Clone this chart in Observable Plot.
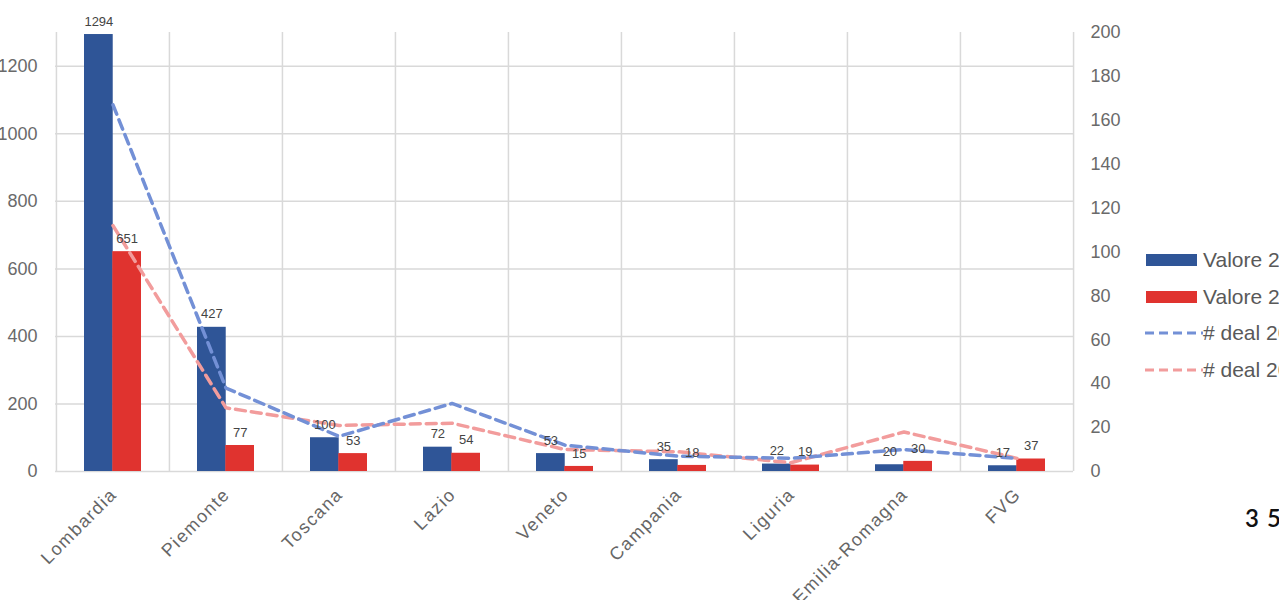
<!DOCTYPE html>
<html>
<head>
<meta charset="utf-8">
<script src="https://cdn.jsdelivr.net/npm/d3@7"></script>
<script src="https://cdn.jsdelivr.net/npm/@observablehq/plot@0.6"></script>
<style>
  html, body { margin: 0; padding: 0; background: #fff; overflow: hidden; width: 1279px; height: 600px; }
  #wrap { position: relative; width: 1279px; height: 600px; }
  #chart svg { display: block; }
  .legend { position: absolute; left: 1145px; top: 0; font-family: "Liberation Sans", Arial, sans-serif;
            font-size: 21px; color: #595959; white-space: nowrap; }
  .legend .row { position: absolute; left: 0; height: 24px; display: flex; align-items: center; }
  .legend .key { width: 58px; height: 24px; display: flex; align-items: center; flex: none; }
  .legend .swatch { width: 51px; height: 12px; margin-left: 1px; }
  .pagenum { position: absolute; left: 1245px; top: 503px; font-family: Lato, "Open Sans", sans-serif;
             font-size: 24px; font-weight: 600; letter-spacing: 8px; color: #111; white-space: nowrap; }
</style>
</head>
<body>
<div id="wrap">
  <div id="chart"></div>
  <div class="legend" id="legend"></div>
  <div class="pagenum">35</div>
</div>
<script>
// Regions and their values
const regions = ["Lombardia", "Piemonte", "Toscana", "Lazio", "Veneto", "Campania", "Liguria", "Emilia-Romagna", "FVG"];
const valore2019 = [1294, 427, 100, 72, 53, 35, 22, 20, 17];
const valore2020 = [651, 77, 53, 54, 15, 18, 19, 30, 37];
const deal2019 = [167, 38, 16, 31, 12, 7, 6, 10, 6];
const deal2020 = [112, 29, 21, 22, 10, 9, 4, 18, 6];
const seriesNames = ["Valore 2019", "Valore 2020", "# deal 2019", "# deal 2020"];
const leftTicks = [0, 200, 400, 600, 800, 1000, 1200];
const rightTicks = [0, 20, 40, 60, 80, 100, 120, 140, 160, 180, 200];

const colors = { v1: "#2f5597", v2: "#e0332f", d1: "#7390d6", d2: "#f29c9c" };
const yMax = 1300, rMax = 200, k = yMax / rMax;   // deal counts share the y scale, scaled by k

const W = 1279, H = 600, mL = 55, mR = 206, mT = 32, mB = 129;
const step = (W - mL - mR) / regions.length;
const half = step / 4;                              // width of one bar in a pair

const rows = regions.map((r, i) => ({ r, v1: valore2019[i], v2: valore2020[i], d1: deal2019[i] * k, d2: deal2020[i] * k }));

const chart = Plot.plot({
  width: W, height: H,
  marginLeft: mL, marginRight: mR, marginTop: mT, marginBottom: mB,
  style: { fontFamily: "'Liberation Sans', Arial, sans-serif", background: "#fff" },
  x: { type: "band", domain: regions, paddingInner: 0.5, paddingOuter: 0.25, axis: null },
  y: { domain: [0, yMax] },
  marks: [
    // grid
    Plot.ruleY(leftTicks, { stroke: "#d9d9d9", strokeWidth: 1.5 }),
    Plot.ruleX(regions, { x: d => d, y1: 0, y2: yMax, dx: -step / 2, stroke: "#d9d9d9", strokeWidth: 1.5 }),
    Plot.ruleX(regions.slice(-1), { x: d => d, y1: 0, y2: yMax, dx: step / 2, stroke: "#d9d9d9", strokeWidth: 1.5 }),
    // bars
    Plot.barY(rows, { x: "r", y: "v1", fill: colors.v1, insetRight: half }),
    Plot.barY(rows, { x: "r", y: "v2", fill: colors.v2, insetLeft: half }),
    // deal lines (right axis)
    Plot.line(rows, { x: "r", y: "d2", stroke: colors.d2, strokeWidth: 3.5, strokeDasharray: "10,6" }),
    Plot.line(rows, { x: "r", y: "d1", stroke: colors.d1, strokeWidth: 3.5, strokeDasharray: "10,6" }),
    // value labels
    Plot.text(rows, { x: "r", y: "v1", text: d => String(d.v1), dx: -half / 2, dy: -13, fontSize: 13, fill: "#444" }),
    Plot.text(rows, { x: "r", y: "v2", text: d => String(d.v2), dx: half / 2, dy: -13, fontSize: 13, fill: "#444" }),
    // category labels
    Plot.text(regions, { x: d => d, frameAnchor: "bottom", text: d => d, rotate: -45, textAnchor: "end",
                         dx: 5, dy: 24, fontSize: 18, fill: "#666" }),
    // axes
    Plot.axisY(leftTicks, { anchor: "left", tickSize: 0, tickPadding: 18, fontSize: 18, color: "#6a6a6a", label: null,
                 tickFormat: d3.format("d") }),
    Plot.axisY(rightTicks.map(v => v * k), { anchor: "right", tickSize: 0, tickPadding: 17, fontSize: 18, color: "#6a6a6a",
                 label: null, tickFormat: d => String(Math.round(d / k)) })
  ]
});
// widen the spacing of the rotated region names
d3.select(chart).selectAll("text")
  .filter(function () { return regions.includes(this.textContent); })
  .style("letter-spacing", "1.5px");
document.getElementById("chart").appendChild(chart);

// legend
const legend = document.getElementById("legend");
const rowY = [260, 297, 333, 370];
seriesNames.forEach((name, i) => {
  const row = document.createElement("div");
  row.className = "row";
  row.style.top = (rowY[i] - 12) + "px";
  const key = document.createElement("div");
  key.className = "key";
  if (i < 2) {
    const sw = document.createElement("div");
    sw.className = "swatch";
    sw.style.background = i === 0 ? colors.v1 : colors.v2;
    key.appendChild(sw);
  } else {
    key.innerHTML = `<svg width="58" height="24"><line x1="0" x2="58" y1="12" y2="12" stroke="${i === 2 ? colors.d1 : colors.d2}" stroke-width="3" stroke-dasharray="9,5"/></svg>`;
  }
  const label = document.createElement("span");
  label.textContent = name;
  row.appendChild(key);
  row.appendChild(label);
  legend.appendChild(row);
});
</script>
</body>
</html>
